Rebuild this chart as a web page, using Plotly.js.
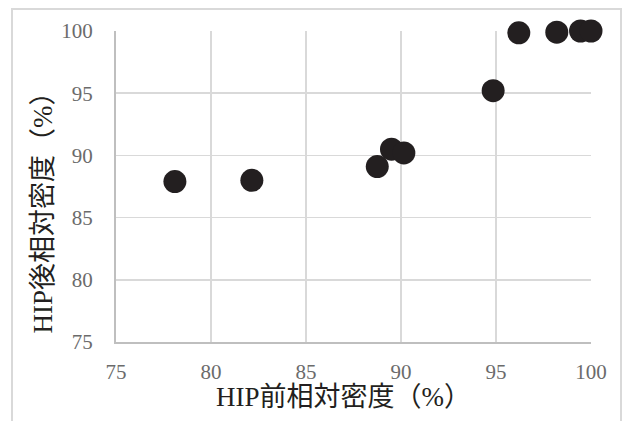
<!DOCTYPE html>
<html>
<head>
<meta charset="utf-8">
<script src="https://cdn.plot.ly/plotly-3.0.1.min.js"></script>
<style>html,body{margin:0;padding:0;background:#fff;}#chart{width:627px;height:421px;}</style>
</head>
<body>
<div id="chart"></div>
<script>
const xValues = [78.1, 82.15, 88.75, 89.5, 90.15, 94.85, 96.2, 98.2, 99.45, 100.0];
const yValues = [87.9, 88.0, 89.1, 90.5, 90.2, 95.2, 99.85, 99.9, 100.0, 100.0];
const tickVals = [75, 80, 85, 90, 95, 100];
const tickText = ['75', '80', '85', '90', '95', '100'];
const xTitle = 'HIP前相対密度（%）';
const yTitle = 'HIP後相対密度（%）';

const serif = 'Liberation Serif, Times New Roman, serif';
const titleFont = 'Liberation Serif, Noto Sans CJK JP';

const L = 116, R = 591, T = 31, B = 342, W = 627, H = 421;
const px = v => (v - L) / (R - L);
const py = v => (B - v) / (B - T);

const trace = {
  x: xValues, y: yValues, type: 'scatter', mode: 'markers',
  marker: {color: '#231f20', size: 23, line: {width: 0}},
  cliponaxis: false, hoverinfo: 'skip'
};

const axisCommon = {
  range: [75, 100], tickmode: 'array', tickvals: tickVals, ticktext: tickText,
  showgrid: true, gridcolor: '#d9d9d9', gridwidth: 1.5,
  zeroline: false, showline: true, linecolor: '#bfbfbf', linewidth: 2,
  ticks: 'outside', tickcolor: 'rgba(0,0,0,0)',
  tickfont: {family: serif, size: 21, color: '#6b6b6b'},
  automargin: false
};

const layout = {
  width: W, height: H,
  margin: {l: L, r: W - R, t: T, b: H - B, pad: 0},
  paper_bgcolor: '#ffffff', plot_bgcolor: '#ffffff',
  showlegend: false,
  xaxis: Object.assign({}, axisCommon, {ticklen: 10}),
  yaxis: Object.assign({}, axisCommon, {ticklen: 17}),
  annotations: [
    {text: xTitle, xref: 'paper', yref: 'paper', x: px(343.5), y: py(397),
     xanchor: 'center', yanchor: 'middle', showarrow: false,
     font: {family: titleFont, size: 27, color: '#231f20'}},
    {text: yTitle, xref: 'paper', yref: 'paper', x: px(42), y: py(206.5),
     xanchor: 'center', yanchor: 'middle', showarrow: false, textangle: -90,
     font: {family: titleFont, size: 27, color: '#231f20'}}
  ],
  shapes: [{
    type: 'rect', xref: 'paper', yref: 'paper', layer: 'below',
    x0: px(12), x1: px(621), y0: py(430), y1: py(9),
    line: {color: '#d9d9d9', width: 2}, fillcolor: 'rgba(0,0,0,0)'
  }]
};

Plotly.newPlot('chart', [trace], layout, {staticPlot: true, displayModeBar: false});
</script>
</body>
</html>
